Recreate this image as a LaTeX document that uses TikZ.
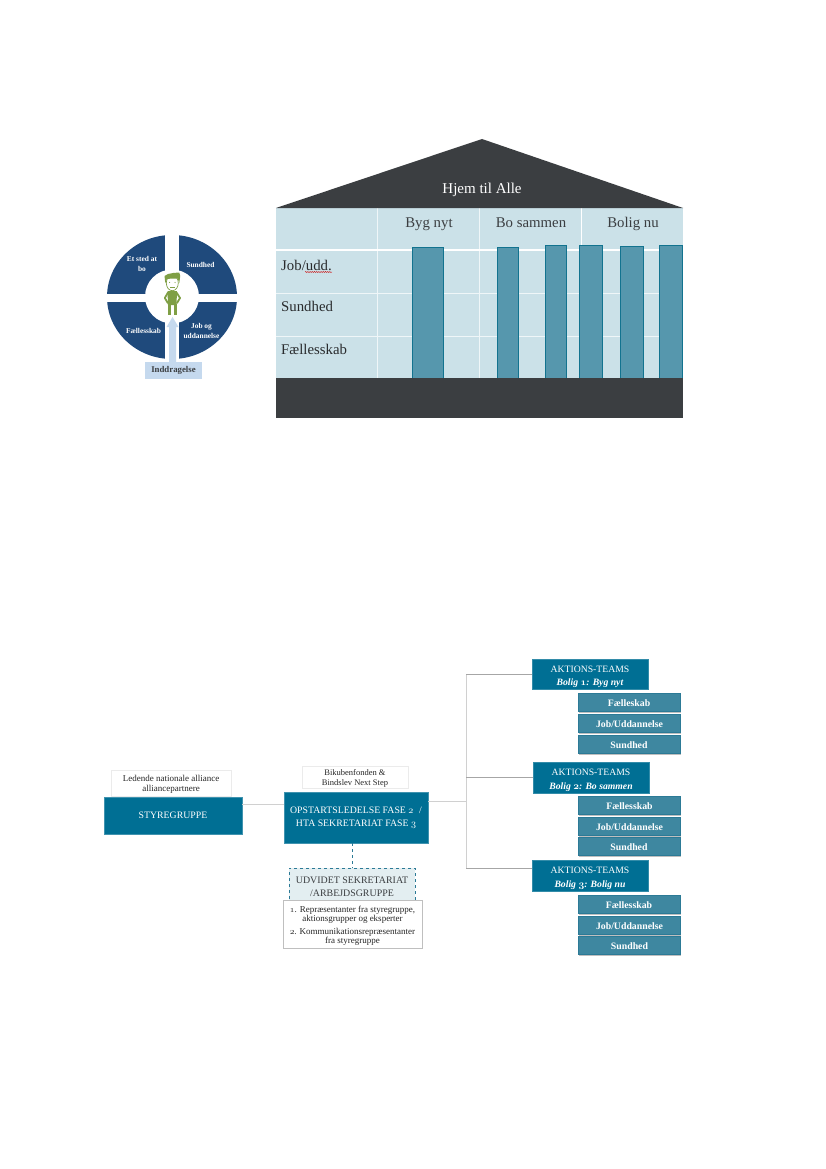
\documentclass[tikz,border=0pt]{standalone}
\usepackage{fontspec}
\setmainfont{Liberation Serif}
\usetikzlibrary{decorations.pathmorphing}
\newcommand{\osn}[1]{{\usefont{OML}{cmm}{m}{it}#1}}
\newcommand{\osnb}[1]{{\usefont{OML}{cmm}{b}{it}#1}}
\newcommand{\lowered}[1]{\rule{0pt}{#1pt}}
\definecolor{hdark}{HTML}{3B3E41}
\definecolor{hlight}{HTML}{CBE1E8}
\definecolor{hcol}{HTML}{5697AD}
\definecolor{hcolb}{HTML}{12738F}
\definecolor{navy}{HTML}{1F4A7C}
\definecolor{teal}{HTML}{006F94}
\definecolor{subc}{HTML}{3E87A0}
\definecolor{subb}{HTML}{2C7A96}
\definecolor{pale}{HTML}{C5D9EE}
\definecolor{fig}{HTML}{7F9F45}
\definecolor{ugrey}{HTML}{D0D0D0}
\tikzset{
  x=1pt,y=-1pt,
  colbar/.style={fill=hcol,draw=hcolb,line width=.7pt},
  rowlab/.style={anchor=west,font=\fontsize{14.8}{16}\selectfont,text=hdark!70!black,inner sep=0pt,text height=10pt,text depth=3pt},
  collab/.style={font=\fontsize{14.8}{16}\selectfont,text=hdark,inner sep=0pt,text height=10pt,text depth=3pt},
  quad/.style={text=white,font=\fontsize{7.4}{10}\selectfont\bfseries,align=center,inner sep=0pt},
  teambox/.style={fill=teal,draw=teal!80!white,line width=.4pt,text=white,align=center,inner sep=0pt,minimum width=116pt,minimum height=30.5pt,font=\fontsize{9.7}{13.5}\selectfont},
  subbox/.style={fill=subc,draw=subb,line width=.6pt,text=white,inner sep=0pt,minimum width=102pt,minimum height=18pt,text height=8.5pt,text depth=0pt,font=\fontsize{9.8}{10}\selectfont\bfseries},
  subshadow/.style={fill=black!25,draw=none,inner sep=0pt,minimum width=102pt,minimum height=18pt},
  notebox/.style={fill=white,draw=black!8,line width=.6pt,align=center,inner sep=0pt,text=black!85,font=\fontsize{9}{9.2}\selectfont},
  mainbox/.style={fill=teal,draw=teal!75!white,line width=.4pt,text=white,align=center,inner sep=0pt},
  conn/.style={draw=black!35,line width=.8pt},
  connlight/.style={draw=ugrey,line width=1pt},
}
\begin{document}
\begin{tikzpicture}
\useasboundingbox (0,0) rectangle (826,1169);
\fill[white] (0,0) rectangle (826,1169);

% ---------- wheel
\fill[navy] (172,297) ellipse [x radius=65,y radius=62];
\fill[white] (165,225) rectangle (178.5,370);
\fill[white] (100,294) rectangle (245,301.5);
\fill[white] (172,296.5) circle [radius=27];
\node[quad] (q1) at (142,264) {Et sted at\\bo};
\node[quad] (q2) at (200.5,265) {Sundhed};
\node[quad] (q3) at (143.5,331) {Fællesskab};
\node[quad] (q4) at (201.5,331) {Job og\\uddannelse};
% person
\draw[fig,line width=1.8pt,line cap=round,line join=round] (168,292.5) -- (164.8,298) -- (167.8,303);
\draw[fig,line width=1.8pt,line cap=round,line join=round] (176.5,292.5) -- (180,298) -- (177,303);
\fill[fig] (167.5,291) -- (177,291) -- (176.5,305) -- (168,305) -- cycle;
\draw[fig,line width=3pt] (169.5,304) -- (169.5,315);
\draw[fig,line width=3pt] (175,304) -- (175,315);
\fill[white,draw=fig,line width=.7pt] (172.3,283) ellipse [x radius=6,y radius=7.7];
\fill[fig] (165.3,283) -- (164.5,276) -- (168,274) -- (173,273) -- (179.3,272.5) -- (180.2,276) -- (179.3,283) -- (177.7,278.5) -- (172,278.5) -- (167,279) -- cycle;
\fill[fig] (169.6,282.4) circle [radius=.6];
\fill[fig] (175,282.4) circle [radius=.6];
\fill[fig] (169.8,287) rectangle (174.8,288.4);
% inddragelse
\node[fill=pale,inner sep=0pt,minimum width=57pt,minimum height=17pt,font=\fontsize{8.8}{10}\selectfont\bfseries,text=hdark] (indd) at (173.5,370.5) {Inddragelse};
\coordinate (arrowtip) at (172.5,317);
\fill[pale] (indd.north -| 169,0) -- (169,327) -- (166.5,327) -- (arrowtip) -- (178.5,327) -- (176,327) -- (176,0 |- indd.north) -- cycle;

% ---------- house
\fill[hlight] (276,208) rectangle (683,378);
\foreach \y in {293,336} \draw[white!70!hlight,line width=.7pt] (276,\y) -- (683,\y);
\foreach \xx in {377,479} \draw[white!70!hlight,line width=.7pt] (\xx,208) -- (\xx,378);
\draw[white,line width=.7pt] (581,208) -- (581,250);
\draw[white,line width=1.6pt] (276,250) -- (683,250);
\foreach \a/\b/\t in {412/443/247,497/518/247,545/566/245.5,579/602/245.5,620/643/246.5,659/682/245.5}
  \draw[colbar] (\a,378) -- (\a,\t) -- (\b,\t) -- (\b,378);
\fill[hdark] (276,208) -- (482,139) -- (683,208) -- cycle;
\fill[hdark] (276,378) rectangle (683,417.5);
\node[text=white,font=\fontsize{15}{16}\selectfont,inner sep=0pt] (hjem) at (482,189.5) {Hjem til Alle};
\node[collab] (byg) at (429,223.5) {Byg nyt};
\node[collab] (bosam) at (531,223.5) {Bo sammen};
\node[collab] (bolig) at (633,223.5) {Bolig nu};
\node[rowlab] (job) at (281,266.5) {Job/udd.};
\node[rowlab] (sund) at (281,308) {Sundhed};
\node[rowlab] (fael) at (281,350.5) {Fællesskab};
\draw[red!80!black,line width=.4pt,decorate,decoration={snake,amplitude=.5pt,segment length=2.2pt}] (305,272) -- (332,272);

% ---------- organisation
\node[mainbox,minimum width=138pt,minimum height=37pt,font=\fontsize{9.8}{11}\selectfont] (styre) at (173,815.5) {STYREGRUPPE};
\node[notebox,minimum width=120pt,minimum height=26pt,font=\fontsize{9}{10}\selectfont] (lede) at (171,783) {\lowered{8.5}Ledende nationale alliance\\alliancepartnere};
\node[mainbox,minimum width=144pt,minimum height=51pt,font=\fontsize{9.8}{13.5}\selectfont] (opst) at (356,817.5) {OPSTARTSLEDELSE FASE \osn{2}\,\, /\\HTA SEKRETARIAT FASE \osn{3}};
\node[notebox,minimum width=106pt,minimum height=22pt,font=\fontsize{8.5}{10.5}\selectfont] (biku) at (355,777) {\lowered{8.5}Bikubenfonden \&\\Bindslev Next Step};
\node[fill=black!2!hlight!50!white,draw=subb,dashed,line width=.6pt,minimum width=126pt,minimum height=32pt,inner sep=0pt,align=center,text=hdark,font=\fontsize{9.9}{13}\selectfont] (udv) at (352,884) {\lowered{12.6}UDVIDET SEKRETARIAT\\/ARBEJDSGRUPPE};
\node[notebox,draw=black!25,minimum width=139pt,minimum height=48pt] (repr) at (352.5,924) {\lowered{9.2}\osn{1}. Repræsentanter fra styregruppe,\\aktionsgrupper og eksperter\\[3.6pt]\osn{2}. Kommunikationsrepræsentanter\\fra styregruppe};

\node[teambox] (t1) at (590,674) {\lowered{12.5}AKTIONS-TEAMS\\\textit{\bfseries Bolig \osnb{1}: Byg nyt}};
\node[teambox] (t2) at (591,777.5) {\lowered{12.5}AKTIONS-TEAMS\\\textit{\bfseries Bolig \osnb{2}: Bo sammen}};
\node[teambox] (t3) at (590,875.5) {\lowered{12.5}AKTIONS-TEAMS\\\textit{\bfseries Bolig \osnb{3}: Bolig nu}};

\foreach \nm/\xc/\yc/\txt in {
  a1/629/702/Fælleskab, a2/629.5/723/Job\slash Uddannelse, a3/629/744/Sundhed,
  b1/629.5/805/Fællesskab, b2/629.5/826/Job\slash Uddannelse, b3/629/846/Sundhed,
  c1/629/904/Fællesskab, c2/629.5/925/Job\slash Uddannelse, c3/629.5/945/Sundhed}{
  \node[subshadow] at (\xc+.5,\yc+1.5) {};
  \node[subbox] (\nm) at (\xc,\yc) {\txt};
}

% connectors
\coordinate (leftjoin) at (263,804);
\draw[connlight] (styre.east |- leftjoin) -- (opst.west |- leftjoin);
\draw[subb,dashed,line width=.6pt] (opst.south -| udv.north) -- (udv.north);
\coordinate (trunk) at (466,801);
\coordinate (t3join) at (466,868);
\draw[connlight] (opst.east |- trunk) -- (trunk);
\draw[connlight] (t1.west -| trunk) -- (t3join);
\draw[conn] (t1.west) -- (t1.west -| trunk);
\draw[conn] (t2.west) -- (t2.west -| trunk);
\draw[conn] (t3join) -- (t3.west |- t3join);
\end{tikzpicture}
\end{document}
